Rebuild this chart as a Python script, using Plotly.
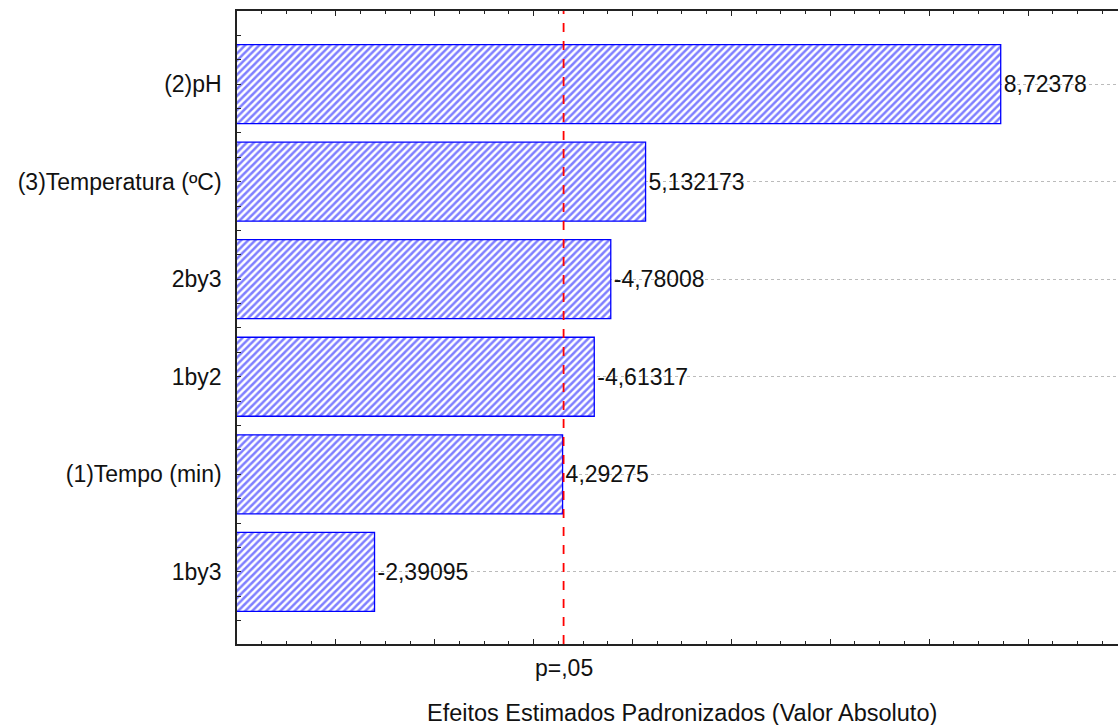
import plotly.graph_objects as go

# Data (bottom to top)
categories = ["1by3", "(1)Tempo (min)", "1by2", "2by3", "(3)Temperatura (ºC)", "(2)pH"]
effects = [-2.39095, 4.29275, -4.61317, -4.78008, 5.132173, 8.72378]
labels = ["-2,39095", "4,29275", "-4,61317", "-4,78008", "5,132173", "8,72378"]
p_value_line = 4.303
p_label = "p=,05"
x_title = "Efeitos Estimados Padronizados (Valor Absoluto)"

positions = list(range(len(categories)))
abs_effects = [abs(v) for v in effects]

FONT = "Liberation Sans, Arial, sans-serif"
FS = 23

fig = go.Figure()
fig.add_trace(go.Bar(
    x=abs_effects,
    y=positions,
    orientation="h",
    width=0.81,
    marker=dict(
        color="white",
        line=dict(color="#0000FF", width=1.3),
        pattern=dict(shape="/", fgcolor="#0000FF", bgcolor="white", size=5, solidity=0.5),
    ),
    text=labels,
    textposition="outside",
    cliponaxis=False,
    textfont=dict(family=FONT, size=FS, color="#111111"),
    hoverinfo="skip",
))

fig.add_shape(type="line", xref="x", yref="paper", x0=p_value_line, x1=p_value_line, y0=0, y1=1,
              line=dict(color="#FF0000", width=1.8, dash="dash"), layer="above")

fig.add_annotation(x=p_value_line, xref="x", y=-0.038, yref="paper", text=p_label,
                   showarrow=False, xanchor="center", yanchor="middle",
                   font=dict(family=FONT, size=FS, color="#111111"))
fig.add_annotation(x=0.505, xref="paper", y=-0.109, yref="paper", text=x_title,
                   showarrow=False, xanchor="center", yanchor="middle",
                   font=dict(family=FONT, size=23.5, color="#111111"))

fig.update_layout(
    width=1118, height=725,
    margin=dict(l=237, r=0, t=11, b=81),
    plot_bgcolor="white", paper_bgcolor="white",
    showlegend=False,
    bargap=0.19,
    xaxis=dict(
        range=[1.0, 9.91], showticklabels=False,
        ticks="inside", ticklen=5, tickcolor="#222222", tickwidth=1, dtick=1, tick0=0,
        minor=dict(ticks="inside", ticklen=3, dtick=0.25, tickcolor="#222222", showgrid=False),
        showline=True, linecolor="#222222", linewidth=1.5, mirror="ticks",
        showgrid=False, zeroline=False,
    ),
    yaxis=dict(
        range=[-0.74, 5.75],
        tickvals=positions, ticktext=categories,
        tickfont=dict(family=FONT, size=FS, color="#111111"),
        ticks="inside", ticklen=4, tickcolor="#222222", tickwidth=1,
        minor=dict(ticks="inside", ticklen=4, dtick=0.25, tick0=0, tickcolor="#222222", showgrid=False),
        showline=True, linecolor="#222222", linewidth=1.5, mirror=False,
        showgrid=True, gridcolor="#BBBBBB", griddash="dot", gridwidth=1,
        zeroline=False, ticklabelstandoff=9,
    ),
)

fig.write_html(
    "out.html",
    config={"displayModeBar": False},
    post_script="document.body.style.margin='0';document.body.style.overflow='hidden';",
)
